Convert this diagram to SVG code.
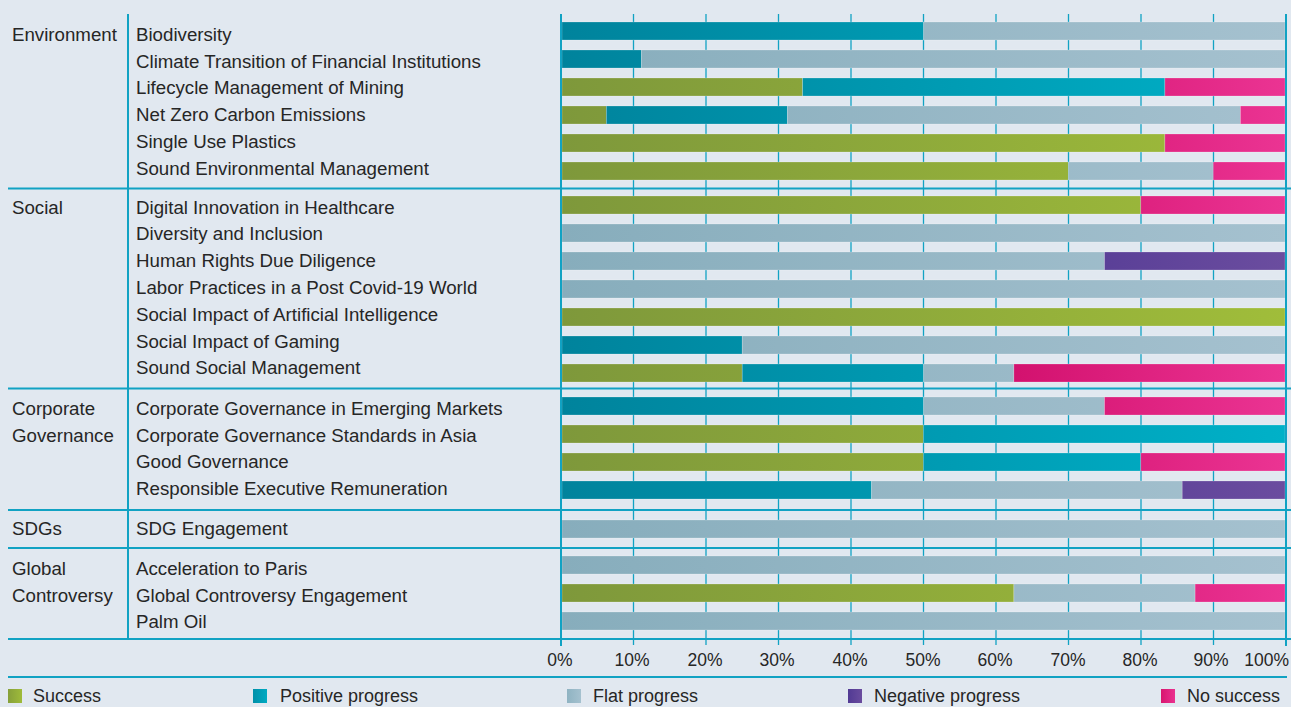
<svg xmlns="http://www.w3.org/2000/svg" width="1291" height="707" viewBox="0 0 1291 707">
<style>
text{font-family:"Liberation Sans",Arial,sans-serif;fill:#262626;}
.lbl{font-size:18.7px;}
.ax{font-size:17.5px;text-anchor:middle;}
.lg{font-size:18px;}
.rule{stroke:#11a2c3;stroke-width:2;fill:none;}
.grid{stroke:#11a2c3;stroke-width:1.3;fill:none;}
.g{fill:url(#gG);}
.t{fill:url(#gT);}
.f{fill:url(#gF);}
.n{fill:url(#gN);}
.p{fill:url(#gP);}
.bar rect{stroke:#ffffff;stroke-opacity:0.35;stroke-width:0.6;}
</style>
<defs>
<linearGradient id="gG" gradientUnits="userSpaceOnUse" x1="561" y1="0" x2="1285" y2="0"><stop offset="0" stop-color="#7e983b"/><stop offset="1" stop-color="#a0bd3a"/></linearGradient>
<linearGradient id="gT" gradientUnits="userSpaceOnUse" x1="561" y1="0" x2="1285" y2="0"><stop offset="0" stop-color="#00839c"/><stop offset="1" stop-color="#00b1c8"/></linearGradient>
<linearGradient id="gF" gradientUnits="userSpaceOnUse" x1="561" y1="0" x2="1285" y2="0"><stop offset="0" stop-color="#87adbc"/><stop offset="1" stop-color="#a5c1cf"/></linearGradient>
<linearGradient id="gN" gradientUnits="userSpaceOnUse" x1="561" y1="0" x2="1285" y2="0"><stop offset="0" stop-color="#3f2f88"/><stop offset="0.7" stop-color="#573d96"/><stop offset="1" stop-color="#6b4d9f"/></linearGradient>
<linearGradient id="gP" gradientUnits="userSpaceOnUse" x1="561" y1="0" x2="1285" y2="0"><stop offset="0" stop-color="#b8005a"/><stop offset="0.6" stop-color="#d10f6c"/><stop offset="1" stop-color="#eb3493"/></linearGradient>
<linearGradient id="lG" x1="0" y1="0" x2="1" y2="0"><stop offset="0" stop-color="#86a03a"/><stop offset="1" stop-color="#9fbb3a"/></linearGradient>
<linearGradient id="lT" x1="0" y1="0" x2="1" y2="0"><stop offset="0" stop-color="#0090a9"/><stop offset="1" stop-color="#00aac2"/></linearGradient>
<linearGradient id="lF" x1="0" y1="0" x2="1" y2="0"><stop offset="0" stop-color="#8fb3c2"/><stop offset="1" stop-color="#a5c1cf"/></linearGradient>
<linearGradient id="lN" x1="0" y1="0" x2="1" y2="0"><stop offset="0" stop-color="#513a94"/><stop offset="1" stop-color="#6a4c9e"/></linearGradient>
<linearGradient id="lP" x1="0" y1="0" x2="1" y2="0"><stop offset="0" stop-color="#d8166f"/><stop offset="1" stop-color="#ea3190"/></linearGradient>
</defs>
<rect x="0" y="0" width="1291" height="707" fill="#e1e8f0"/>

<g id="grid">
<line class="grid" x1="633.5" y1="14" x2="633.5" y2="645"/>
<line class="grid" x1="706" y1="14" x2="706" y2="645"/>
<line class="grid" x1="778.5" y1="14" x2="778.5" y2="645"/>
<line class="grid" x1="851" y1="14" x2="851" y2="645"/>
<line class="grid" x1="923.5" y1="14" x2="923.5" y2="645"/>
<line class="grid" x1="996" y1="14" x2="996" y2="645"/>
<line class="grid" x1="1068.5" y1="14" x2="1068.5" y2="645"/>
<line class="grid" x1="1141" y1="14" x2="1141" y2="645"/>
<line class="grid" x1="1213.5" y1="14" x2="1213.5" y2="645"/>
</g>

<g id="rules">
<line class="rule" x1="128" y1="14" x2="128" y2="639"/>
<line class="rule" x1="8" y1="188.5" x2="1291" y2="188.5"/>
<line class="rule" x1="8" y1="388.5" x2="1291" y2="388.5"/>
<line class="rule" x1="8" y1="510" x2="1291" y2="510"/>
<line class="rule" x1="8" y1="548" x2="1291" y2="548"/>
<line class="rule" x1="8" y1="639" x2="1291" y2="639"/>
<line class="rule" x1="8" y1="677" x2="1287" y2="677"/>
</g>

<g id="groups">
<text class="lbl" x="12" y="40.7">Environment</text>
<text class="lbl" x="12" y="213.5">Social</text>
<text class="lbl" x="12" y="415">Corporate</text>
<text class="lbl" x="12" y="441.5">Governance</text>
<text class="lbl" x="12" y="535">SDGs</text>
<text class="lbl" x="12" y="575">Global</text>
<text class="lbl" x="12" y="601.5">Controversy</text>
</g>

<g id="labels">
<text class="lbl" x="136" y="40.7">Biodiversity</text>
<text class="lbl" x="136" y="67.5">Climate Transition of Financial Institutions</text>
<text class="lbl" x="136" y="94.3">Lifecycle Management of Mining</text>
<text class="lbl" x="136" y="121.1">Net Zero Carbon Emissions</text>
<text class="lbl" x="136" y="147.9">Single Use Plastics</text>
<text class="lbl" x="136" y="174.7">Sound Environmental Management</text>
<text class="lbl" x="136" y="213.5">Digital Innovation in Healthcare</text>
<text class="lbl" x="136" y="240.3">Diversity and Inclusion</text>
<text class="lbl" x="136" y="267.1">Human Rights Due Diligence</text>
<text class="lbl" x="136" y="293.9">Labor Practices in a Post Covid-19 World</text>
<text class="lbl" x="136" y="320.7">Social Impact of Artificial Intelligence</text>
<text class="lbl" x="136" y="347.5">Social Impact of Gaming</text>
<text class="lbl" x="136" y="374.3">Sound Social Management</text>
<text class="lbl" x="136" y="415">Corporate Governance in Emerging Markets</text>
<text class="lbl" x="136" y="441.5">Corporate Governance Standards in Asia</text>
<text class="lbl" x="136" y="468">Good Governance</text>
<text class="lbl" x="136" y="495">Responsible Executive Remuneration</text>
<text class="lbl" x="136" y="535">SDG Engagement</text>
<text class="lbl" x="136" y="575">Acceleration to Paris</text>
<text class="lbl" x="136" y="601.5">Global Controversy Engagement</text>
<text class="lbl" x="136" y="628">Palm Oil</text>
</g>

<g id="bars" class="bar">
<g id="r1"><rect class="t" x="562" y="22" width="361.4" height="18"/><rect class="f" x="923.4" y="22" width="361.6" height="18"/></g>
<g id="r2"><rect class="t" x="562" y="50" width="79.5" height="18"/><rect class="f" x="641.5" y="50" width="643.5" height="18"/></g>
<g id="r3"><rect class="g" x="562" y="78" width="240.6" height="18"/><rect class="t" x="802.6" y="78" width="362.3" height="18"/><rect class="p" x="1164.9" y="78" width="120.1" height="18"/></g>
<g id="r4"><rect class="g" x="562" y="106" width="44.3" height="18"/><rect class="t" x="606.3" y="106" width="181.2" height="18"/><rect class="f" x="787.5" y="106" width="452.9" height="18"/><rect class="p" x="1240.4" y="106" width="44.6" height="18"/></g>
<g id="r5"><rect class="g" x="562" y="134" width="602.9" height="18"/><rect class="p" x="1164.9" y="134" width="120.1" height="18"/></g>
<g id="r6"><rect class="g" x="562" y="162" width="506.3" height="18"/><rect class="f" x="1068.3" y="162" width="144.9" height="18"/><rect class="p" x="1213.2" y="162" width="71.8" height="18"/></g>
<g id="r7"><rect class="g" x="562" y="196" width="578.8" height="18"/><rect class="p" x="1140.8" y="196" width="144.2" height="18"/></g>
<g id="r8"><rect class="f" x="562" y="224" width="723" height="18"/></g>
<g id="r9"><rect class="f" x="562" y="252" width="542.5" height="18"/><rect class="n" x="1104.5" y="252" width="180.5" height="18"/></g>
<g id="r10"><rect class="f" x="562" y="280" width="723" height="18"/></g>
<g id="r11"><rect class="g" x="562" y="308" width="723" height="18"/></g>
<g id="r12"><rect class="t" x="562" y="336" width="180.2" height="18"/><rect class="f" x="742.2" y="336" width="542.8" height="18"/></g>
<g id="r13"><rect class="g" x="562" y="364" width="180.2" height="18"/><rect class="t" x="742.2" y="364" width="181.2" height="18"/><rect class="f" x="923.4" y="364" width="90.5" height="18"/><rect class="p" x="1013.9" y="364" width="271.1" height="18"/></g>
<g id="r14"><rect class="t" x="562" y="397" width="361.4" height="18"/><rect class="f" x="923.4" y="397" width="181.1" height="18"/><rect class="p" x="1104.5" y="397" width="180.5" height="18"/></g>
<g id="r15"><rect class="g" x="562" y="425" width="361.4" height="18"/><rect class="t" x="923.4" y="425" width="361.6" height="18"/></g>
<g id="r16"><rect class="g" x="562" y="453" width="361.4" height="18"/><rect class="t" x="923.4" y="453" width="217.4" height="18"/><rect class="p" x="1140.8" y="453" width="144.2" height="18"/></g>
<g id="r17"><rect class="t" x="562" y="481" width="309.6" height="18"/><rect class="f" x="871.6" y="481" width="310.6" height="18"/><rect class="n" x="1182.2" y="481" width="102.8" height="18"/></g>
<g id="r18"><rect class="f" x="562" y="520" width="723" height="18"/></g>
<g id="r19"><rect class="f" x="562" y="556" width="723" height="18"/></g>
<g id="r20"><rect class="g" x="562" y="584" width="451.9" height="18"/><rect class="f" x="1013.9" y="584" width="181.2" height="18"/><rect class="p" x="1195.1" y="584" width="89.9" height="18"/></g>
<g id="r21"><rect class="f" x="562" y="612" width="723" height="18"/></g>
</g>

<g id="axis">
<line class="rule" x1="561" y1="14" x2="561" y2="646"/>
<line class="rule" x1="1286" y1="14" x2="1286" y2="646"/>
<text class="ax" x="560" y="666">0%</text>
<text class="ax" x="632" y="666">10%</text>
<text class="ax" x="705" y="666">20%</text>
<text class="ax" x="777" y="666">30%</text>
<text class="ax" x="850" y="666">40%</text>
<text class="ax" x="923" y="666">50%</text>
<text class="ax" x="995" y="666">60%</text>
<text class="ax" x="1068" y="666">70%</text>
<text class="ax" x="1140" y="666">80%</text>
<text class="ax" x="1211" y="666">90%</text>
<text class="ax" x="1289" y="666" style="text-anchor:end">100%</text>
</g>

<g id="legend">
<g id="lg-success"><rect x="8" y="689" width="14" height="14" fill="url(#lG)"/><text class="lg" x="33" y="702">Success</text></g>
<g id="lg-positive"><rect x="253" y="689" width="14" height="14" fill="url(#lT)"/><text class="lg" x="280" y="702">Positive progress</text></g>
<g id="lg-flat"><rect x="567" y="689" width="14" height="14" fill="url(#lF)"/><text class="lg" x="593" y="702">Flat progress</text></g>
<g id="lg-negative"><rect x="848" y="689" width="14" height="14" fill="url(#lN)"/><text class="lg" x="874" y="702">Negative progress</text></g>
<g id="lg-nosuccess"><rect x="1161" y="689" width="14" height="14" fill="url(#lP)"/><text class="lg" x="1187" y="702">No success</text></g>
</g>
</svg>
